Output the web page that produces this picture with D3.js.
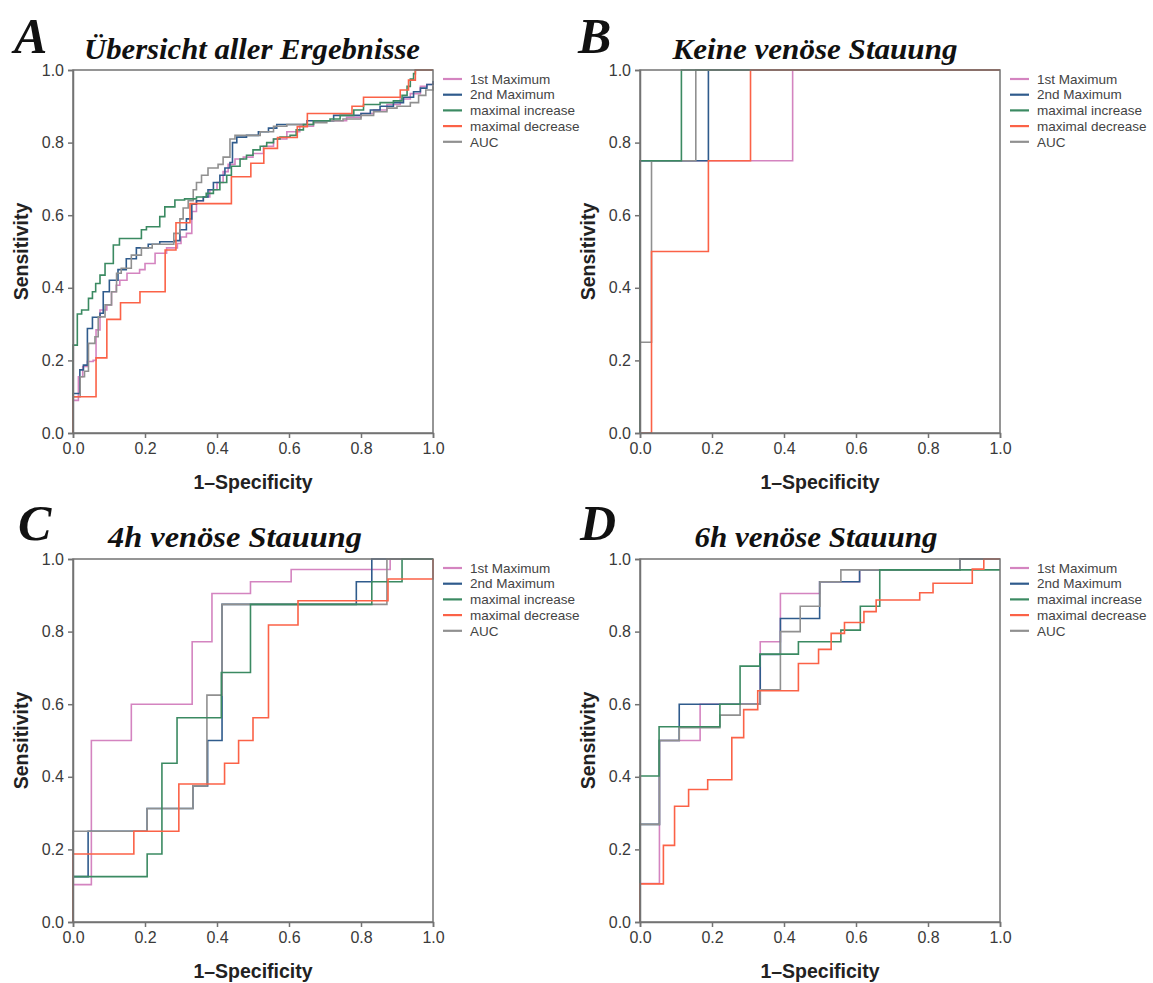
<!DOCTYPE html>
<html><head><meta charset="utf-8">
<script src="https://cdn.jsdelivr.net/npm/d3@7/dist/d3.min.js"></script>
<style>body{margin:0;background:#fff}</style>
</head><body>
<svg id="c" width="1153" height="983"></svg>
<script>
// ---- data ----
const seriesNames = ["1st Maximum","2nd Maximum","maximal increase","maximal decrease","AUC"];
const tickValues = [0,0.2,0.4,0.6,0.8,1.0];
const panelLetters = ["A","B","C","D"];
const panelTitles = ["Übersicht aller Ergebnisse","Keine venöse Stauung","4h venöse Stauung","6h venöse Stauung"];

// Panel A
const A_first = [[0,0],[0,0.09],[0.015,0.155],[0.027,0.183],[0.04,0.197],[0.056,0.20],[0.064,0.284],[0.075,0.339],[0.094,0.353],[0.107,0.389],[0.12,0.407],[0.13,0.421],[0.15,0.44],[0.185,0.45],[0.2,0.467],[0.228,0.495],[0.26,0.51],[0.29,0.522],[0.3,0.54],[0.315,0.55],[0.33,0.61],[0.343,0.64],[0.362,0.65],[0.38,0.67],[0.4,0.69],[0.417,0.72],[0.431,0.74],[0.45,0.755],[0.473,0.76],[0.5,0.77],[0.529,0.79],[0.557,0.81],[0.594,0.83],[0.63,0.845],[0.668,0.86],[0.76,0.87],[0.8,0.88],[0.835,0.89],[0.872,0.905],[0.909,0.92],[0.937,0.935],[0.965,0.955],[0.983,0.96],[1,0.965]];
const A_second = [[0,0],[0,0.109],[0.019,0.174],[0.029,0.187],[0.04,0.288],[0.054,0.319],[0.075,0.33],[0.084,0.389],[0.101,0.421],[0.125,0.45],[0.148,0.48],[0.176,0.51],[0.209,0.52],[0.241,0.527],[0.283,0.53],[0.297,0.56],[0.315,0.59],[0.33,0.63],[0.343,0.64],[0.362,0.65],[0.375,0.67],[0.39,0.69],[0.408,0.71],[0.422,0.73],[0.436,0.745],[0.443,0.80],[0.455,0.815],[0.482,0.82],[0.515,0.83],[0.543,0.84],[0.566,0.85],[0.65,0.86],[0.724,0.875],[0.8,0.88],[0.826,0.89],[0.853,0.9],[0.89,0.91],[0.918,0.925],[0.946,0.94],[0.965,0.95],[0.983,0.96],[1,0.97]];
const A_increase = [[0,0],[0,0.242],[0.012,0.328],[0.024,0.339],[0.043,0.371],[0.054,0.389],[0.063,0.412],[0.075,0.435],[0.089,0.467],[0.112,0.518],[0.129,0.536],[0.19,0.56],[0.204,0.568],[0.241,0.596],[0.255,0.623],[0.283,0.642],[0.31,0.645],[0.343,0.65],[0.37,0.66],[0.39,0.67],[0.408,0.69],[0.427,0.71],[0.44,0.735],[0.464,0.755],[0.482,0.765],[0.5,0.78],[0.52,0.79],[0.538,0.80],[0.557,0.81],[0.575,0.815],[0.603,0.82],[0.62,0.835],[0.64,0.85],[0.668,0.86],[0.714,0.865],[0.742,0.875],[0.78,0.89],[0.807,0.905],[0.853,0.91],[0.89,0.915],[0.914,0.93],[0.928,0.955],[0.937,0.975],[0.946,0.99],[0.951,1],[1,1]];
const A_decrease = [[0,0],[0,0.1],[0.064,0.207],[0.094,0.313],[0.132,0.359],[0.186,0.389],[0.256,0.504],[0.286,0.579],[0.325,0.632],[0.44,0.706],[0.494,0.743],[0.53,0.784],[0.568,0.814],[0.623,0.844],[0.651,0.88],[0.775,0.9],[0.807,0.925],[0.909,0.945],[0.932,0.972],[0.951,1],[1,1]];
const A_auc = [[0,0],[0,0.10],[0.02,0.155],[0.032,0.17],[0.043,0.247],[0.061,0.265],[0.07,0.32],[0.089,0.353],[0.107,0.389],[0.121,0.44],[0.134,0.454],[0.162,0.49],[0.19,0.51],[0.22,0.52],[0.28,0.55],[0.297,0.59],[0.306,0.62],[0.32,0.64],[0.334,0.67],[0.343,0.69],[0.357,0.71],[0.375,0.73],[0.403,0.74],[0.417,0.76],[0.436,0.81],[0.45,0.82],[0.52,0.83],[0.557,0.845],[0.594,0.85],[0.668,0.855],[0.705,0.86],[0.75,0.865],[0.8,0.875],[0.835,0.885],[0.872,0.895],[0.9,0.9],[0.937,0.91],[0.96,0.93],[0.98,0.945],[1,0.955]];

// Panel B
const B_first = [[0,0],[0,0.75],[0.424,1],[1,1]];
const B_second = [[0,0],[0,0.75],[0.19,1],[1,1]];
const B_increase = [[0,0],[0,0.75],[0.115,1],[1,1]];
const B_decrease = [[0,0],[0.032,0.5],[0.19,0.75],[0.307,1],[1,1]];
const B_auc = [[0,0],[0,0.25],[0.032,0.75],[0.155,1],[1,1]];

// Panel C
const C_first = [[0,0],[0,0.103],[0.051,0.5],[0.162,0.6],[0.331,0.772],[0.386,0.905],[0.493,0.9375],[0.606,0.971],[0.881,1],[1,1]];
const C_second = [[0,0],[0,0.125],[0.042,0.25],[0.206,0.3125],[0.333,0.375],[0.374,0.5],[0.414,0.875],[0.787,0.9375],[0.83,1],[1,1]];
const C_increase = [[0,0],[0,0.125],[0.206,0.1875],[0.247,0.4375],[0.289,0.5625],[0.412,0.6875],[0.493,0.875],[0.83,0.9375],[0.914,1],[1,1]];
const C_decrease = [[0,0],[0,0.1875],[0.169,0.25],[0.294,0.38],[0.421,0.4375],[0.46,0.5],[0.5,0.5625],[0.543,0.818],[0.625,0.885],[0.875,0.945],[1,1]];
const C_auc = [[0,0],[0,0.25],[0.206,0.3125],[0.333,0.375],[0.372,0.625],[0.414,0.875],[0.872,1],[1,1]];

// Panel D
const D_first = [[0,0],[0,0.106],[0.054,0.5],[0.167,0.6],[0.334,0.772],[0.39,0.905],[0.499,0.9375],[0.61,0.97],[0.889,1],[1,1]];
const D_second = [[0,0],[0,0.269],[0.054,0.5],[0.109,0.6],[0.334,0.737],[0.39,0.836],[0.499,0.9375],[0.61,0.97],[0.889,1],[1,1]];
const D_increase = [[0,0],[0,0.402],[0.053,0.538],[0.222,0.6],[0.278,0.705],[0.333,0.738],[0.44,0.772],[0.558,0.804],[0.612,0.87],[0.666,0.97],[1,0.97]];
const D_decrease = [[0,0],[0,0.105],[0.065,0.211],[0.096,0.319],[0.135,0.365],[0.188,0.392],[0.255,0.508],[0.288,0.585],[0.327,0.637],[0.44,0.712],[0.496,0.751],[0.531,0.795],[0.568,0.825],[0.622,0.855],[0.656,0.887],[0.777,0.907],[0.814,0.933],[0.923,0.972],[0.955,1],[1,1]];
const D_auc = [[0,0],[0,0.269],[0.054,0.5],[0.109,0.535],[0.222,0.57],[0.278,0.6],[0.334,0.64],[0.39,0.8],[0.445,0.87],[0.5,0.9375],[0.558,0.97],[0.889,1],[1,1]];

// ---- style / layout ----
const colors = {"1st Maximum":"#d484c0","2nd Maximum":"#2f5b8c","maximal increase":"#3b8a62","maximal decrease":"#fb6247","AUC":"#909090"};
const drawOrder = ["1st Maximum","2nd Maximum","AUC","maximal increase","maximal decrease"];

const panels = [
  {letter:panelLetters[0], title:panelTitles[0], x0:73, x1:433, y0:433, y1:70,
   data:{"1st Maximum":A_first,"2nd Maximum":A_second,"maximal increase":A_increase,"maximal decrease":A_decrease,"AUC":A_auc},
   lx:14, ly:53, tx:252, ty:59, tw:336},
  {letter:panelLetters[1], title:panelTitles[1], x0:640, x1:1000, y0:433, y1:70,
   data:{"1st Maximum":B_first,"2nd Maximum":B_second,"maximal increase":B_increase,"maximal decrease":B_decrease,"AUC":B_auc},
   lx:578, ly:53, tx:815, ty:59, tw:285},
  {letter:panelLetters[2], title:panelTitles[2], x0:73, x1:433, y0:922, y1:559,
   data:{"1st Maximum":C_first,"2nd Maximum":C_second,"maximal increase":C_increase,"maximal decrease":C_decrease,"AUC":C_auc},
   lx:18, ly:540, tx:235, ty:547, tw:254},
  {letter:panelLetters[3], title:panelTitles[3], x0:640, x1:1000, y0:922, y1:559,
   data:{"1st Maximum":D_first,"2nd Maximum":D_second,"maximal increase":D_increase,"maximal decrease":D_decrease,"AUC":D_auc},
   lx:580, ly:540, tx:816, ty:547, tw:243}
];

const svg = d3.select("#c");
svg.append("rect").attr("width",1153).attr("height",983).attr("fill","#fff");

panels.forEach(p => {
  const g = svg.append("g");
  const x = d3.scaleLinear().domain([0,1]).range([p.x0,p.x1]);
  const y = d3.scaleLinear().domain([0,1]).range([p.y0,p.y1]);

  // curves
  const line = d3.line().x(d=>x(d[0])).y(d=>y(d[1])).curve(d3.curveStepAfter);
  drawOrder.forEach(name => {
    g.append("path").datum(p.data[name]).attr("d",line)
      .attr("fill","none").attr("stroke",colors[name]).attr("stroke-width",1.6);
  });

  // frame
  g.append("rect").attr("x",p.x0).attr("y",p.y1).attr("width",p.x1-p.x0).attr("height",p.y0-p.y1)
    .attr("fill","none").attr("stroke","#737373").attr("stroke-width",1.5);

  // axes
  const ax = g.append("g").attr("transform",`translate(0,${p.y0})`)
    .call(d3.axisBottom(x).tickValues(tickValues).tickFormat(d3.format(".1f")).tickSizeOuter(0).tickSize(5).tickPadding(5));
  const ay = g.append("g").attr("transform",`translate(${p.x0},0)`)
    .call(d3.axisLeft(y).tickValues(tickValues).tickFormat(d3.format(".1f")).tickSizeOuter(0).tickSize(5).tickPadding(4));
  [ax,ay].forEach(a => {
    a.select(".domain").attr("stroke","#737373").attr("stroke-width",1.5);
    a.selectAll(".tick line").attr("stroke","#737373").attr("stroke-width",1.5);
    a.selectAll(".tick text").attr("fill","#3a3a3a").style("font-family","Liberation Sans, Arial, sans-serif").style("font-size","16px");
  });

  // axis labels
  g.append("text").attr("x",(p.x0+p.x1)/2).attr("y",p.y0+56).attr("text-anchor","middle")
    .style("font-family","Liberation Sans, Arial, sans-serif").style("font-weight","bold").style("font-size","19.5px")
    .attr("fill","#222").text("1–Specificity");
  g.append("text").attr("transform",`translate(${p.x0-45},${(p.y0+p.y1)/2}) rotate(-90)`).attr("text-anchor","middle")
    .style("font-family","Liberation Sans, Arial, sans-serif").style("font-weight","bold").style("font-size","19.5px")
    .attr("fill","#222").text("Sensitivity");

  // letter and title
  g.append("text").attr("x",p.lx).attr("y",p.ly)
    .style("font-family","Liberation Serif, serif").style("font-weight","bold").style("font-style","italic").style("font-size","50px")
    .attr("fill","#111").text(p.letter);
  g.append("text").attr("x",p.tx).attr("y",p.ty).attr("text-anchor","middle")
    .attr("textLength",p.tw).attr("lengthAdjust","spacingAndGlyphs")
    .style("font-family","Liberation Serif, serif").style("font-weight","bold").style("font-style","italic").style("font-size","30px")
    .attr("fill","#111").text(p.title);

  // legend
  const lg = g.append("g").attr("transform",`translate(${p.x1+10},${p.y1+9})`);
  seriesNames.forEach((name,i) => {
    const yy = i*15.7;
    lg.append("line").attr("x1",0).attr("x2",19).attr("y1",yy).attr("y2",yy)
      .attr("stroke",colors[name]).attr("stroke-width",2.2);
    lg.append("text").attr("x",27).attr("y",yy).attr("dy","0.35em")
      .style("font-family","Liberation Sans, Arial, sans-serif").style("font-size","13.5px")
      .attr("fill","#444").text(name);
  });
});
</script>
</body></html>
